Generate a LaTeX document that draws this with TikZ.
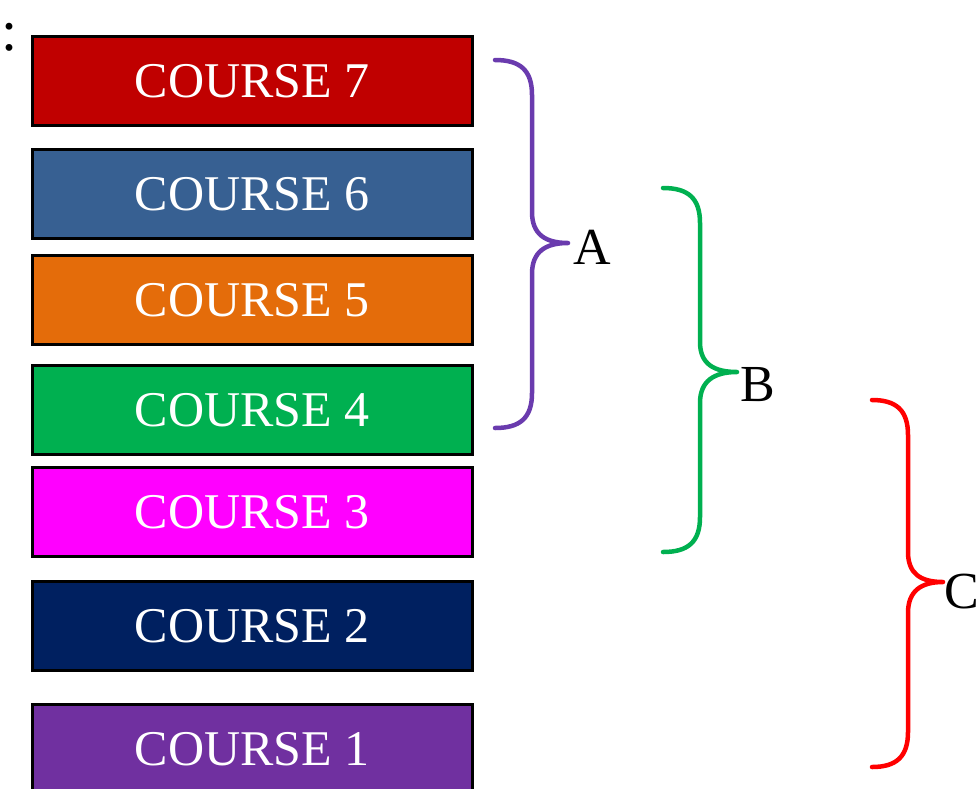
\documentclass[tikz,border=0pt]{standalone}
\usepackage{fontspec}
\setmainfont{Liberation Serif}
\definecolor{c7}{HTML}{C00000}
\definecolor{c6}{HTML}{376092}
\definecolor{c5}{HTML}{E46C0A}
\definecolor{c4}{HTML}{00B050}
\definecolor{c3}{HTML}{FF00FF}
\definecolor{c2}{HTML}{002060}
\definecolor{c1}{HTML}{7030A0}
\definecolor{bA}{HTML}{6A3BAE}
\definecolor{bB}{HTML}{00B050}
\definecolor{bC}{HTML}{FF0000}
\begin{document}
\begin{tikzpicture}[x=1pt,y=-1pt,
  coursebox/.style={draw=black,line width=2.5pt,minimum width=440pt,minimum height=89pt,
    inner sep=0pt,text=white,font=\fontsize{50}{50}\selectfont,anchor=north west},
  bracepath/.style={line width=4.5pt,line cap=round,line join=round},
  bracelabel/.style={text=black,font=\fontsize{52}{52}\selectfont,anchor=west,inner sep=0pt}]
\useasboundingbox (0,0) rectangle (979,788);
\node[text=black,font=\fontsize{58}{58}\selectfont,inner sep=0pt,anchor=base] (colon) at (10,50) {:};
\node[coursebox,fill=c7] (k7) at (31,35) {COURSE 7};
\node[coursebox,fill=c6] (k6) at (31,148) {COURSE 6};
\node[coursebox,fill=c5] (k5) at (31,254) {COURSE 5};
\node[coursebox,fill=c4] (k4) at (31,364) {COURSE 4};
\node[coursebox,fill=c3] (k3) at (31,466) {COURSE 3};
\node[coursebox,fill=c2] (k2) at (31,580) {COURSE 2};
\node[coursebox,fill=c1,minimum height=95pt] (k1) at (31,703) {\raisebox{6pt}{COURSE 1}};
% brace A
\coordinate (aT) at (495,60);
\coordinate (aP) at (568,243);
\coordinate (aB) at (495,428);
\draw[bracepath,draw=bA] (aT) .. controls (520,60) and (532,70) .. (532,95) -- (532,212)
  .. controls (532,234) and (545,243) .. (aP)
  .. controls (545,243) and (532,252) .. (532,274) -- (532,393)
  .. controls (532,418) and (520,428) .. (aB);
\node[bracelabel] (lA) at (573,247) {A};
% brace B
\coordinate (bT) at (663,188);
\coordinate (bP) at (737,372);
\coordinate (bB) at (663,552);
\draw[bracepath,draw=bB] (bT) .. controls (688,188) and (700,198) .. (700,223) -- (700,342)
  .. controls (700,364) and (714,372) .. (bP)
  .. controls (714,372) and (700,381) .. (700,403) -- (700,517)
  .. controls (700,542) and (688,552) .. (bB);
\node[bracelabel] (lB) at (740,385) {B};
% brace C
\coordinate (cT) at (872,400);
\coordinate (cP) at (943,582);
\coordinate (cB) at (872,767);
\draw[bracepath,draw=bC] (cT) .. controls (896,400) and (908,410) .. (908,435) -- (908,552)
  .. controls (908,574) and (921,582) .. (cP)
  .. controls (921,582) and (908,591) .. (908,613) -- (908,732)
  .. controls (908,757) and (896,767) .. (cB);
\node[bracelabel] (lC) at (944,592) {C};
\end{tikzpicture}
\end{document}
